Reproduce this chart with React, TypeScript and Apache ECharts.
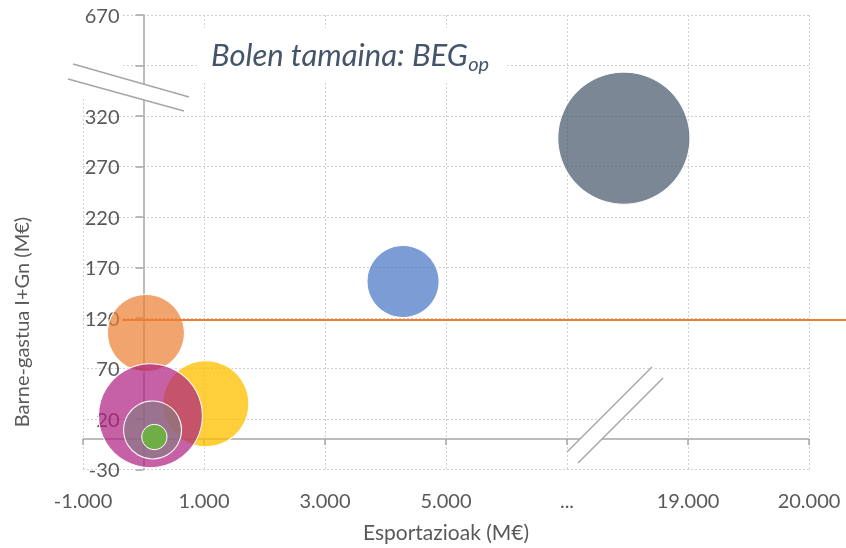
import React, { useEffect, useRef } from "react";
import * as echarts from "echarts";

// ---- data ----
const bubbleNames = ["A", "B", "C", "D", "E", "F", "G"];
const exportsX = [18470, 4290, 40, 1030, 115, 150, 180]; // Esportazioak (M€)
const rdY = [298, 156, 105, 35, 23, 9, 2]; // Barne-gastua I+Gn (M€)
const begSize = [436, 130, 148, 185, 270, 84, 16]; // BEG_op (bubble size)
const bubbleColors = [
  "rgba(68,84,106,0.7)",
  "rgba(68,114,196,0.7)",
  "rgba(237,125,49,0.7)",
  "rgba(255,192,0,0.77)",
  "rgba(172,30,126,0.7)",
  "rgba(128,128,128,0.6)",
  "rgba(112,173,71,1)",
];
const refLineY = 118;
const refLineX = [-355, 20310];
const xTickLabels = ["-1.000", "1.000", "3.000", "5.000", "...", "19.000", "20.000"];
const yTickLabels = ["-30", "20", "70", "120", "170", "220", "270", "320", "", "670"];

// broken-axis mapping (real value -> axis position)
const toX = (v: number) => (v <= 7000 ? v + 1000 : 8000 + (v - 18000) * 2);
const toY = (v: number) => v + 30;

const FONT = "Lato";
const LABEL_COLOR = "#595959";
const AXIS_COLOR = "#A6A6A6";
const GRID_COLOR = "#D0D0D0";

export default function App() {
  const ref = useRef<HTMLDivElement>(null);
  useEffect(() => {
    if (!ref.current) return;
    const chart = echarts.init(ref.current, null, { renderer: "svg" });
    const gridH = 548 - 15 - 78.7;
    const xOff = -(1000 / 12000) * 726;
    const yOff = -(30 / 450) * gridH;

    const baseX = { type: "value", min: 0, max: 12000, interval: 2000 };
    const baseY = { type: "value", min: 0, max: 450, interval: 50 };

    const staticGraphics: any[] = [
      { id: "g1", type: "rect", z: 1, shape: { x: 74, y: 5, width: 48, height: 94 }, style: { fill: "#ffffff" }, silent: true },
      { id: "g2", type: "rect", z: 1, shape: { x: 197, y: 28, width: 308, height: 55 }, style: { fill: "#ffffff" }, silent: true },
      {
        id: "g3",
        type: "polygon",
        z: 10,
        shape: { points: [[73, 64], [189, 97], [184, 111], [68, 79]] },
        style: { fill: "#ffffff", stroke: "none" },
        silent: true,
      },
      { id: "g4", type: "line", z: 11, shape: { x1: 73, y1: 64, x2: 189, y2: 97 }, style: { stroke: AXIS_COLOR, lineWidth: 1.5 }, silent: true },
      { id: "g5", type: "line", z: 11, shape: { x1: 68, y1: 79, x2: 184, y2: 111 }, style: { stroke: AXIS_COLOR, lineWidth: 1.5 }, silent: true },
      {
        id: "g6",
        type: "polygon",
        z: 10,
        shape: { points: [[567, 452], [652, 367], [663, 378], [578, 463]] },
        style: { fill: "#ffffff", stroke: "none" },
        silent: true,
      },
      { id: "g7", type: "line", z: 11, shape: { x1: 567, y1: 452, x2: 652, y2: 367 }, style: { stroke: AXIS_COLOR, lineWidth: 1.5 }, silent: true },
      { id: "g8", type: "line", z: 11, shape: { x1: 578, y1: 463, x2: 663, y2: 378 }, style: { stroke: AXIS_COLOR, lineWidth: 1.5 }, silent: true },
      {
        id: "title",
        type: "text",
        z: 12,
        x: 211,
        y: 34,
        silent: true,
        style: {
          text: "{a|Bolen tamaina: BEG}{b|op}",
          rich: {
            a: { fontFamily: FONT, fontStyle: "italic", fontSize: 31, lineHeight: 39, fill: "#44546A", color: "#44546A" },
            b: { fontFamily: FONT, fontStyle: "italic", fontSize: 20, lineHeight: 13, verticalAlign: "bottom", fill: "#44546A", color: "#44546A" },
          },
        },
      },
      {
        id: "xname",
        type: "text",
        z: 12,
        x: 446,
        y: 531,
        silent: true,
        style: {
          text: "Esportazioak (M€)",
          font: `21px ${FONT}`,
          fill: LABEL_COLOR,
          align: "center",
          verticalAlign: "middle",
          textAlign: "center",
          textVerticalAlign: "middle",
        },
      },
      {
        id: "yname",
        type: "text",
        z: 12,
        x: 21,
        y: 322,
        rotation: Math.PI / 2,
        silent: true,
        style: {
          text: "Barne-gastua I+Gn (M€)",
          font: `20px ${FONT}`,
          fill: LABEL_COLOR,
          align: "center",
          verticalAlign: "middle",
          textAlign: "center",
          textVerticalAlign: "middle",
        },
      },
    ];

    const option: any = {
      animation: false,
      grid: { left: 83, right: 37, top: 15, bottom: 78.7 },
      xAxis: [
        {
          ...baseX,
          z: 0,
          axisLine: { show: false },
          axisTick: { show: false },
          axisLabel: { show: false },
          splitLine: { show: true, lineStyle: { color: GRID_COLOR, type: [2, 2], width: 1 } },
        },
        {
          ...baseX,
          z: 2,
          position: "bottom",
          offset: yOff,
          axisLine: { show: true, onZero: false, lineStyle: { color: AXIS_COLOR, width: 1.5 } },
          axisTick: { show: true, length: 6, lineStyle: { color: AXIS_COLOR, width: 1.5 } },
          axisLabel: {
            show: true,
            margin: 51,
            color: LABEL_COLOR,
            fontFamily: FONT,
            fontSize: 20,
            formatter: (v: number) => xTickLabels[Math.round(v / 2000)] ?? "",
          },
          splitLine: { show: false },
        },
      ],
      yAxis: [
        {
          ...baseY,
          z: 0,
          axisLine: { show: false },
          axisTick: { show: false },
          axisLabel: { show: false },
          splitLine: { show: true, lineStyle: { color: GRID_COLOR, type: [2, 2], width: 1 } },
        },
        {
          ...baseY,
          z: 2,
          position: "left",
          offset: xOff,
          axisLine: { show: true, onZero: false, lineStyle: { color: AXIS_COLOR, width: 1.5 } },
          axisTick: { show: true, length: 8, lineStyle: { color: AXIS_COLOR, width: 1.5 } },
          axisLabel: {
            show: true,
            margin: 24,
            color: LABEL_COLOR,
            fontFamily: FONT,
            fontSize: 20,
            formatter: (v: number) => yTickLabels[Math.round(v / 50)] ?? "",
          },
          splitLine: { show: false },
        },
      ],
      series: [
        {
          type: "scatter",
          xAxisIndex: 0,
          yAxisIndex: 0,
          silent: true,
          z: 3,
          symbolSize: (val: number[]) => 2 * Math.sqrt(val[2] * 10),
          data: exportsX.map((x, i) => ({
            name: bubbleNames[i],
            value: [toX(x), toY(rdY[i]), begSize[i]],
            itemStyle: { color: bubbleColors[i], borderColor: "#ffffff", borderWidth: 1, opacity: 1 },
          })),
        },
      ],
      graphic: staticGraphics,
    };
    chart.setOption(option);

    // reference line (extends past the plot area, as in the original)
    const p0 = chart.convertToPixel({ xAxisIndex: 0, yAxisIndex: 0 }, [toX(refLineX[0]), toY(refLineY)]) as number[];
    const p1 = chart.convertToPixel({ xAxisIndex: 0, yAxisIndex: 0 }, [toX(refLineX[1]), toY(refLineY)]) as number[];
    chart.setOption({
      graphic: [
        ...staticGraphics,
        {
          id: "refline",
          type: "line",
          z: 4,
          silent: true,
          shape: { x1: p0[0], y1: p0[1], x2: p1[0], y2: p1[1] },
          style: { stroke: "#ED7D31", lineWidth: 2 },
        },
      ],
    });
    return () => chart.dispose();
  }, []);
  return <div ref={ref} style={{ position: "fixed", left: 0, top: 0, width: 846, height: 548 }} />;
}
